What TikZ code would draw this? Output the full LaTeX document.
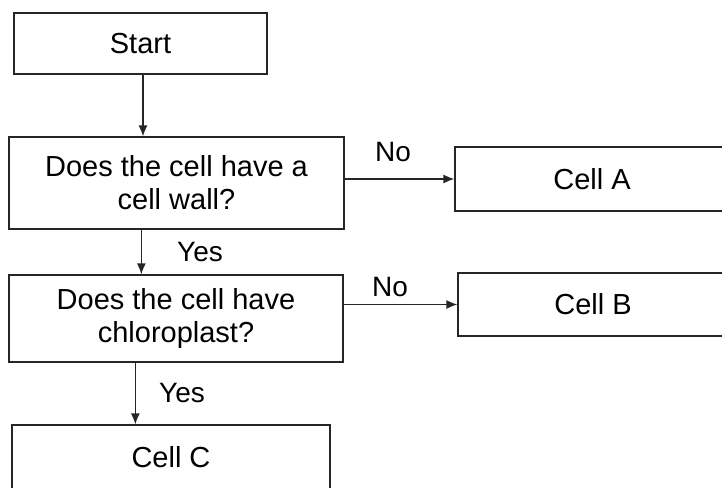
\documentclass[tikz,border=0pt]{standalone}
\usepackage{fontspec}
\setmainfont{Liberation Sans}
\usetikzlibrary{arrows.meta}

\tikzset{
	box/.style={draw=black!85,line width=1.3pt,inner sep=0pt,align=center,font=\fontsize{29}{33}\selectfont},
	lbl/.style={font=\fontsize{28}{30}\selectfont},
	arr/.style={draw=black!85,line width=1.3pt,-{Latex[length=11pt,width=9pt]}}
}

\begin{document}
\begin{tikzpicture}[x=1pt,y=-1pt]
	\useasboundingbox (0,0) rectangle (722,487);
	\clip (0,0) rectangle (722,487);

	\node[box,minimum width=253pt,minimum height=61pt] (start) at (140.5,43.5) {Start};
	\node[box,minimum width=335pt,minimum height=92pt] (wall) at (176.5,183) {Does the cell have a\\cell wall?};
	\node[box,minimum width=334pt,minimum height=87pt] (chloro) at (176,318.5) {Does the cell have\\chloroplast?};
	\node[box,minimum width=274pt,minimum height=64pt] (cellA) at (592,179) {Cell A};
	\node[box,minimum width=270pt,minimum height=63pt] (cellB) at (593,304.5) {Cell B};
	\node[box,minimum width=318pt,minimum height=64pt] (cellC) at (171,457) {Cell C};

	\draw[arr] ([xshift=2.5pt]start.south) -- ([xshift=2.5pt]start.south |- wall.north);
	\draw[arr] ([xshift=133pt]wall.south west) -- ([xshift=133pt]chloro.north west);
	\draw[arr] ([xshift=127pt]chloro.south west) -- ([xshift=124pt]cellC.north west);
	\draw[arr] (wall.east |- cellA) -- (cellA.west);
	\draw[arr] (chloro.east |- cellB) -- (cellB.west);

	\node[lbl] (noA) at (393,152) {No};
	\node[lbl] (noB) at (390,287) {No};
	\node[lbl] (yesA) at (200,252) {Yes};
	\node[lbl] (yesB) at (182,393) {Yes};
\end{tikzpicture}
\end{document}
